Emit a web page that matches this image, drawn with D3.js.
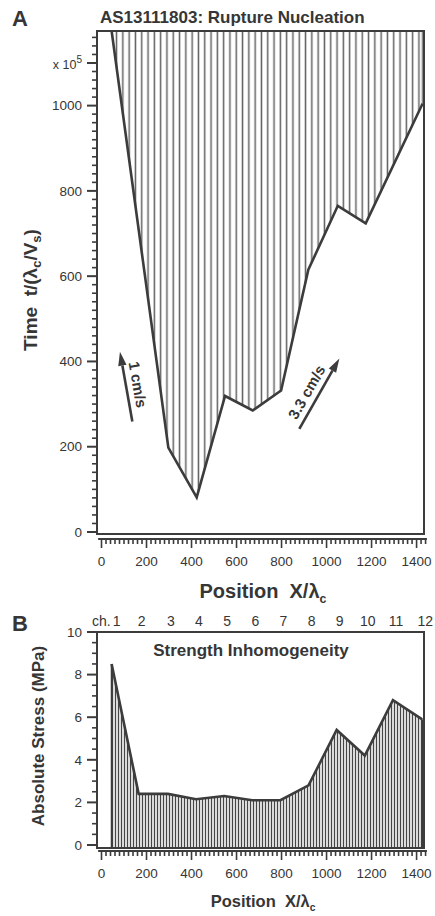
<!DOCTYPE html>
<html>
<head>
<meta charset="utf-8">
<script src="https://cdn.jsdelivr.net/npm/d3@7"></script>
<style>
  body { margin: 0; background: #fff; }
  text { font-family: 'Liberation Sans', Arial, sans-serif; fill: #363636; white-space: pre; }
</style>
</head>
<body>
<div id="chart"></div>
<script>
// channel positions along the fault (X / lambda_c) and stress per channel
const chanX = [45, 165, 295, 420, 545, 670, 795, 920, 1045, 1170, 1295, 1425]
const chanLabels = ['1', '2', '3', '4', '5', '6', '7', '8', '9', '10', '11', '12']
const stress = [8.5, 2.4, 2.4, 2.15, 2.3, 2.1, 2.1, 2.8, 5.4, 4.2, 6.8, 5.9]

// rupture front arrival time per position
const frontX = [45, 297, 423, 549, 672, 798, 919, 1050, 1174, 1427]
const frontT = [1175, 198, 81, 319, 285, 332, 615, 765, 724, 1005]

const xTicks = [0, 200, 400, 600, 800, 1000, 1200, 1400]
const tTicks = [0, 200, 400, 600, 800, 1000]
const sTicks = [0, 2, 4, 6, 8, 10]

// slip-rate arrows, in data units
const arrows = [
  { x1: 137, t1: 259, x2: 82, t2: 423, label: '1 cm/s', side: 1 },
  { x1: 879, t1: 242, x2: 1057, t2: 407, label: '3.3 cm/s', side: -1 },
]

const W = 435
const H = 916
const INK = '#3c3c3c'
const FL = 97
const FR = 424

const svg = d3.select('#chart').append('svg').attr('width', W).attr('height', H)

const defs = svg.append('defs')
const hatch = (id, w, sw, color) => {
  const p = defs
    .append('pattern')
    .attr('id', id)
    .attr('patternUnits', 'userSpaceOnUse')
    .attr('width', w)
    .attr('height', 10)
  p.append('line')
    .attr('x1', w / 2)
    .attr('x2', w / 2)
    .attr('y1', 0)
    .attr('y2', 10)
    .attr('stroke', color)
    .attr('stroke-width', sw)
}
hatch('hatchA', 6.3, 1.5, '#606060')
hatch('hatchB', 3, 1.4, '#454545')

const x = d3.scaleLinear().domain([-20, 1433]).range([FL, FR])

// ---------- panel A ----------
const yA = d3.scaleLinear().domain([0, 1175]).range([532, 31])
const topA = 31
const botA = 534

const front = frontX.map((d, i) => [d, frontT[i]])

svg
  .append('path')
  .datum(front)
  .attr('fill', 'url(#hatchA)')
  .attr(
    'd',
    d3
      .area()
      .x((d) => x(d[0]))
      .y0(topA)
      .y1((d) => yA(d[1]))
  )

svg
  .append('line')
  .attr('x1', x(frontX[frontX.length - 1]))
  .attr('x2', x(frontX[frontX.length - 1]))
  .attr('y1', topA)
  .attr('y2', yA(frontT[frontT.length - 1]))
  .attr('stroke', '#8a8a8a')
  .attr('stroke-width', 2)

svg
  .append('path')
  .datum(front)
  .attr('fill', 'none')
  .attr('stroke', INK)
  .attr('stroke-width', 2.6)
  .attr('stroke-linejoin', 'miter')
  .attr(
    'd',
    d3
      .line()
      .x((d) => x(d[0]))
      .y((d) => Math.max(topA, yA(d[1])))
  )

svg
  .append('rect')
  .attr('x', FL)
  .attr('y', topA)
  .attr('width', FR - FL)
  .attr('height', botA - topA)
  .attr('fill', 'none')
  .attr('stroke', INK)
  .attr('stroke-width', 2)

// arrows
arrows.forEach((a) => {
  const tx = x(a.x1)
  const ty = yA(a.t1)
  const hx = x(a.x2)
  const hy = yA(a.t2)
  const len = Math.hypot(hx - tx, hy - ty)
  const ux = (hx - tx) / len
  const uy = (hy - ty) / len
  const headL = 14
  const headW = 4.2
  const bx = hx - ux * headL
  const by = hy - uy * headL
  svg
    .append('line')
    .attr('x1', tx)
    .attr('y1', ty)
    .attr('x2', bx)
    .attr('y2', by)
    .attr('stroke', INK)
    .attr('stroke-width', 2.6)
  svg
    .append('path')
    .attr('d', `M${hx},${hy}L${bx - uy * headW},${by + ux * headW}L${bx + uy * headW},${by - ux * headW}Z`)
    .attr('fill', INK)

  // text reading along the arrow, on its side
  let ang = (Math.atan2(uy, ux) * 180) / Math.PI
  if (a.side > 0) ang += 180
  const r = (ang * Math.PI) / 180
  const upx = Math.sin(r)
  const upy = -Math.cos(r)
  const mx = (tx + hx) / 2 + upx * 12 + Math.cos(r) * (a.side > 0 ? 0 : -5)
  const my = (ty + hy) / 2 + upy * 12 + Math.sin(r) * (a.side > 0 ? 0 : -5)
  svg
    .append('text')
    .attr('transform', `translate(${mx},${my}) rotate(${ang})`)
    .attr('text-anchor', 'middle')
    .attr('dominant-baseline', 'central')
    .attr('font-size', 15)
    .attr('font-weight', 'bold')
    .text(a.label)
})

// y axis A
const tMinor = d3.range(0, 1161, 20)
svg
  .append('g')
  .selectAll('line')
  .data(tMinor)
  .join('line')
  .attr('x1', (d) => (d % 200 === 0 || d === 1100 ? FL - 10 : FL - 5))
  .attr('x2', FL)
  .attr('y1', (d) => yA(d))
  .attr('y2', (d) => yA(d))
  .attr('stroke', INK)
  .attr('stroke-width', (d) => (d % 200 === 0 || d === 1100 ? 2 : 1.6))

svg
  .append('g')
  .selectAll('text')
  .data(tTicks)
  .join('text')
  .attr('x', FL - 15)
  .attr('y', (d) => yA(d))
  .attr('dy', '0.35em')
  .attr('text-anchor', 'end')
  .attr('font-size', 13.5)
  .text((d) => d)

const exp = svg
  .append('text')
  .attr('x', FL - 15)
  .attr('y', yA(1100))
  .attr('dy', '0.45em')
  .attr('text-anchor', 'end')
  .attr('font-size', 12.5)
exp.append('tspan').text('x 10')
exp.append('tspan').attr('font-size', 10).attr('dy', '-0.6em').text('5')

const yLabA = svg
  .append('text')
  .attr('transform', `translate(37,290) rotate(-90)`)
  .attr('text-anchor', 'middle')
  .attr('font-size', 19)
  .attr('font-weight', 'bold')
yLabA.append('tspan').text('Time  t/(λ')
yLabA.append('tspan').attr('font-size', 13).attr('dy', 4).text('c')
yLabA.append('tspan').attr('dy', -4).text('/V')
yLabA.append('tspan').attr('font-size', 13).attr('dy', 4).text('s')
yLabA.append('tspan').attr('dy', -4).text(')')

// x axis A
const xMinor = d3.range(0, 1441, 20)
const drawXAxis = (y0) => {
  svg
    .append('line')
    .attr('x1', x(-15))
    .attr('x2', x(1446))
    .attr('y1', y0)
    .attr('y2', y0)
    .attr('stroke', INK)
    .attr('stroke-width', 2)
  svg
    .append('g')
    .selectAll('line')
    .data(xMinor)
    .join('line')
    .attr('x1', (d) => x(d))
    .attr('x2', (d) => x(d))
    .attr('y1', y0)
    .attr('y2', (d) => (d % 200 === 0 ? y0 + 9 : y0 + 5))
    .attr('stroke', INK)
    .attr('stroke-width', 1.6)
  svg
    .append('g')
    .selectAll('text')
    .data(xTicks)
    .join('text')
    .attr('x', (d) => x(d))
    .attr('y', y0 + 27)
    .attr('text-anchor', 'middle')
    .attr('font-size', 13.5)
    .text((d) => d)
}
drawXAxis(539)

const xLab = (y0, size) => {
  const t = svg
    .append('text')
    .attr('x', 263)
    .attr('y', y0)
    .attr('text-anchor', 'middle')
    .attr('font-size', size)
    .attr('font-weight', 'bold')
  t.append('tspan').text('Position  X/λ')
  t.append('tspan')
    .attr('font-size', size * 0.62)
    .attr('dy', size * 0.25)
    .text('c')
}
xLab(598, 20)

svg
  .append('text')
  .attr('x', 100)
  .attr('y', 23)
  .attr('font-size', 17)
  .attr('font-weight', 'bold')
  .text('AS13111803: Rupture Nucleation')

svg.append('text').attr('x', 12).attr('y', 26).attr('font-size', 22).attr('font-weight', 'bold').text('A')

// ---------- panel B ----------
const yB = d3.scaleLinear().domain([0, 10]).range([845, 632])
const topB = 632
const botB = 848

const prof = chanX.map((d, i) => [d, stress[i]])

svg
  .append('path')
  .datum(prof)
  .attr('fill', 'url(#hatchB)')
  .attr(
    'd',
    d3
      .area()
      .x((d) => x(d[0]))
      .y0(botB)
      .y1((d) => yB(d[1]))
  )

svg
  .append('g')
  .selectAll('line')
  .data([prof[0], prof[prof.length - 1]])
  .join('line')
  .attr('x1', (d) => x(d[0]))
  .attr('x2', (d) => x(d[0]))
  .attr('y1', (d) => yB(d[1]))
  .attr('y2', botB)
  .attr('stroke', INK)
  .attr('stroke-width', 1.8)

svg
  .append('path')
  .datum(prof)
  .attr('fill', 'none')
  .attr('stroke', INK)
  .attr('stroke-width', 2.6)
  .attr(
    'd',
    d3
      .line()
      .x((d) => x(d[0]))
      .y((d) => yB(d[1]))
  )

svg
  .append('rect')
  .attr('x', FL)
  .attr('y', topB)
  .attr('width', FR - FL)
  .attr('height', botB - topB)
  .attr('fill', 'none')
  .attr('stroke', INK)
  .attr('stroke-width', 2)

const sMinor = d3.range(0, 10.01, 0.5)
svg
  .append('g')
  .selectAll('line')
  .data(sMinor)
  .join('line')
  .attr('x1', (d) => (d % 2 === 0 ? FL - 10 : FL - 5))
  .attr('x2', FL)
  .attr('y1', (d) => yB(d))
  .attr('y2', (d) => yB(d))
  .attr('stroke', INK)
  .attr('stroke-width', (d) => (d % 2 === 0 ? 2 : 1.6))

svg
  .append('g')
  .selectAll('text')
  .data(sTicks)
  .join('text')
  .attr('x', FL - 15)
  .attr('y', (d) => yB(d))
  .attr('dy', '0.35em')
  .attr('text-anchor', 'end')
  .attr('font-size', 13.5)
  .text((d) => d)

svg
  .append('text')
  .attr('transform', `translate(44,736) rotate(-90)`)
  .attr('text-anchor', 'middle')
  .attr('font-size', 17)
  .attr('font-weight', 'bold')
  .text('Absolute Stress (MPa)')

drawXAxis(851)
xLab(907, 16.5)

svg
  .append('text')
  .attr('x', 251)
  .attr('y', 656)
  .attr('text-anchor', 'middle')
  .attr('font-size', 17)
  .attr('font-weight', 'bold')
  .text('Strength Inhomogeneity')

// channel numbers
svg
  .append('g')
  .selectAll('text')
  .data(chanX)
  .join('text')
  .attr('x', (d, i) => x(d) + (i === 0 ? 5 : 3))
  .attr('y', 626)
  .attr('text-anchor', 'middle')
  .attr('font-size', 14)
  .text((d, i) => chanLabels[i])

svg
  .append('text')
  .attr('x', x(chanX[0]) - 1)
  .attr('y', 626)
  .attr('text-anchor', 'end')
  .attr('font-size', 14)
  .text('ch.')

svg.append('text').attr('x', 12).attr('y', 631).attr('font-size', 22).attr('font-weight', 'bold').text('B')
</script>
</body>
</html>
